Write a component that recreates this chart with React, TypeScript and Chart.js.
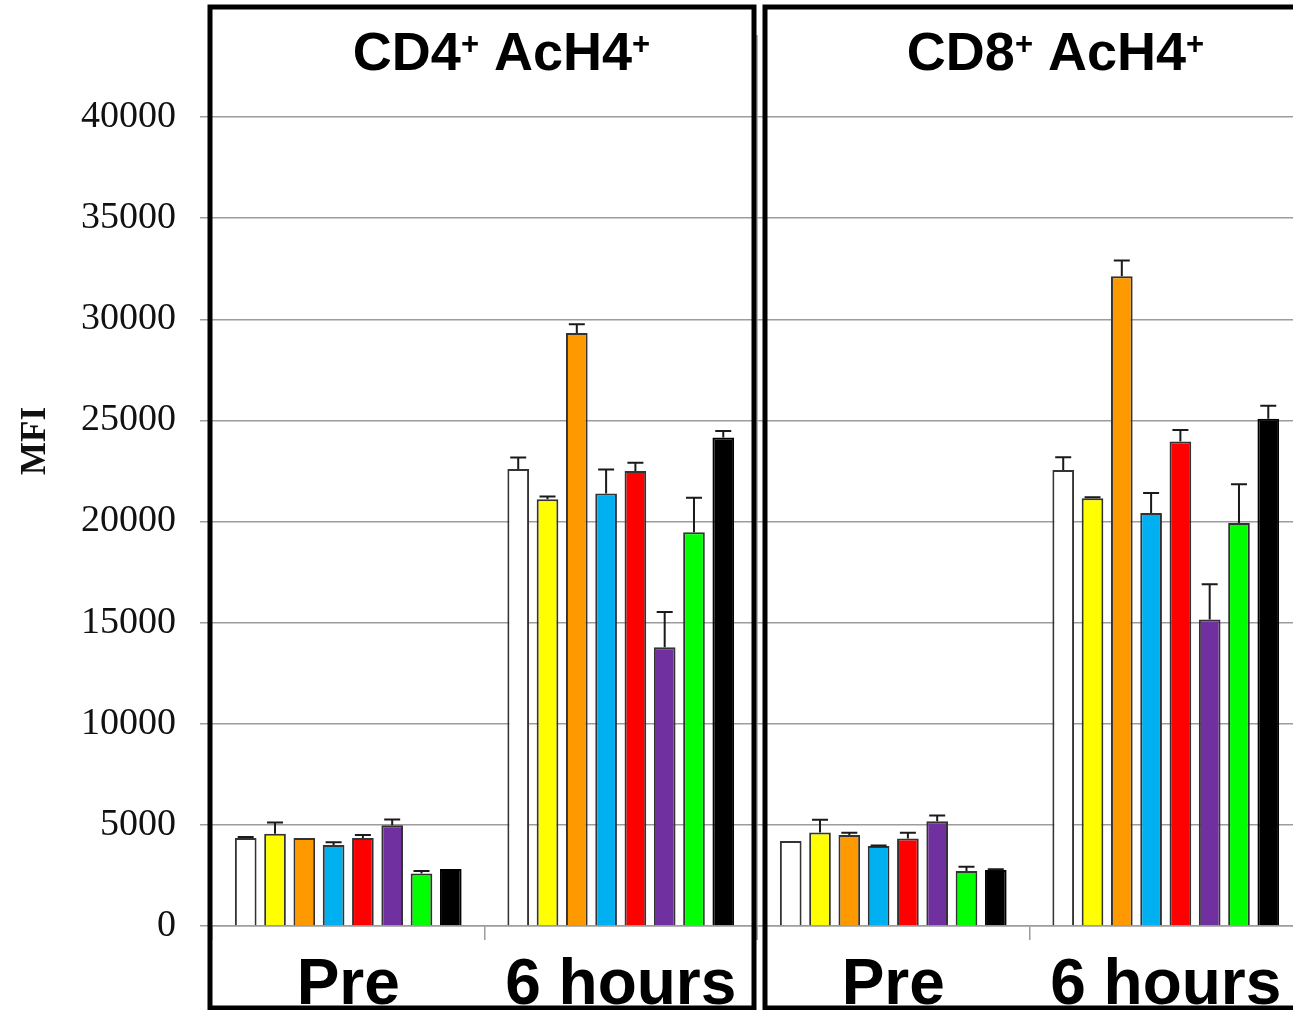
import React, { useEffect, useRef } from "react";
import { Chart, registerables } from "chart.js";

Chart.register(...registerables);

// ---- data ----
const categories = ["Pre", "6 hours", "Pre", "6 hours"];
const panelTitles = [
  ["CD4", "+", " AcH4", "+"],
  ["CD8", "+", " AcH4", "+"],
];
const yTicks = [0, 5000, 10000, 15000, 20000, 25000, 30000, 35000, 40000];
const yAxisTitle = "MFI";

const seriesNames = ["Series 1", "Series 2", "Series 3", "Series 4", "Series 5", "Series 6", "Series 7", "Series 8"];
const seriesColors = ["#FFFFFF", "#FFFF00", "#FF9900", "#00B0F0", "#FF0000", "#7030A0", "#00FF00", "#000000"];

const whiteVals = [4350, 22600, 4200, 22550];
const yellowVals = [4560, 21100, 4620, 21150];
const orangeVals = [4350, 29320, 4500, 32120];
const blueVals = [4010, 21380, 3950, 20420];
const redVals = [4350, 22500, 4330, 23950];
const purpleVals = [4980, 13780, 5180, 15150];
const greenVals = [2590, 19470, 2720, 19920];
const blackVals = [2820, 24150, 2770, 25080];

const whiteErr = [50, 560, 0, 630];
const yellowErr = [560, 130, 630, 50];
const orangeErr = [0, 430, 115, 780];
const blueErr = [130, 1190, 30, 990];
const redErr = [150, 410, 280, 580];
const purpleErr = [280, 1740, 280, 1750];
const greenErr = [130, 1700, 210, 1920];
const blackErr = [0, 320, 30, 645];

const allVals = [whiteVals, yellowVals, orangeVals, blueVals, redVals, purpleVals, greenVals, blackVals];
const allErrs = [whiteErr, yellowErr, orangeErr, blueErr, redErr, purpleErr, greenErr, blackErr];

const SANS = '"Liberation Sans", Arial, sans-serif';
const SERIF = '"Liberation Serif", "Times New Roman", serif';
const GRID = "#9c9c9c";

function drawTitle(ctx: CanvasRenderingContext2D, parts: string[], cx: number, baseline: number) {
  const big = "bold 54px " + SANS;
  const small = "bold 31px " + SANS;
  let total = 0;
  parts.forEach((p, i) => {
    ctx.font = i % 2 === 1 ? small : big;
    total += ctx.measureText(p).width;
  });
  let x = cx - total / 2;
  ctx.fillStyle = "#000";
  ctx.textAlign = "left";
  ctx.textBaseline = "alphabetic";
  parts.forEach((p, i) => {
    const sup = i % 2 === 1;
    ctx.font = sup ? small : big;
    ctx.fillText(p, x, sup ? baseline - 16 : baseline);
    x += ctx.measureText(p).width;
  });
}

const panelPlugin = {
  id: "panelDecor",
  beforeDatasetsDraw(chart: any) {
    const { ctx, scales, chartArea } = chart;
    const xs = scales.x;
    const mid = (xs.getPixelForValue(1) + xs.getPixelForValue(2)) / 2;
    ctx.save();
    ctx.strokeStyle = GRID;
    ctx.lineWidth = 1.5;
    ctx.beginPath();
    ctx.moveTo(mid, 35);
    ctx.lineTo(mid, chartArea.bottom + 14);
    ctx.stroke();
    ctx.restore();
  },
  afterDatasetsDraw(chart: any) {
    const { ctx, scales } = chart;
    const ys = scales.y;
    ctx.save();
    ctx.strokeStyle = "#1a1a1a";
    ctx.lineWidth = 2;
    chart.data.datasets.forEach((ds: any, d: number) => {
      const meta = chart.getDatasetMeta(d);
      meta.data.forEach((bar: any, j: number) => {
        const v = ds.data[j];
        const e = ds.errors[j];
        if (!e) return;
        const yTop = ys.getPixelForValue(v + e);
        ctx.beginPath();
        ctx.moveTo(bar.x, bar.y);
        ctx.lineTo(bar.x, yTop);
        ctx.moveTo(bar.x - 8, yTop);
        ctx.lineTo(bar.x + 8, yTop);
        ctx.stroke();
      });
    });
    ctx.restore();
  },
  afterDraw(chart: any) {
    const { ctx, scales, chartArea } = chart;
    const xs = scales.x;
    const mid = (xs.getPixelForValue(1) + xs.getPixelForValue(2)) / 2;
    const leftMid = (xs.getPixelForValue(0) + xs.getPixelForValue(1)) / 2;
    const rightMid = (xs.getPixelForValue(2) + xs.getPixelForValue(3)) / 2;
    const top = 7;
    const bottom = chart.height - 2;
    ctx.save();
    ctx.strokeStyle = "#000";
    ctx.lineWidth = 5;
    ctx.strokeRect(chartArea.left - 2, top, mid - 3 - (chartArea.left - 2), bottom - top);
    ctx.strokeRect(mid + 8, top, chart.width + 20 - (mid + 8), bottom - top);

    drawTitle(ctx, panelTitles[0], leftMid + 17, 70);
    drawTitle(ctx, panelTitles[1], rightMid + 26, 70);

    ctx.translate(36, 441);
    ctx.rotate(-Math.PI / 2);
    ctx.font = "bold 35px " + SERIF;
    ctx.fillStyle = "#111";
    ctx.textAlign = "center";
    ctx.textBaseline = "middle";
    ctx.fillText(yAxisTitle, 0, 0);
    ctx.restore();
  },
};

export default function App() {
  const ref = useRef<HTMLCanvasElement | null>(null);

  useEffect(() => {
    if (!ref.current) return;
    const chart = new Chart(ref.current, {
      type: "bar",
      data: {
        labels: categories,
        datasets: allVals.map((vals, i) => ({
          label: seriesNames[i],
          data: vals,
          errors: allErrs[i],
          backgroundColor: seriesColors[i],
          borderColor: i === 7 ? "#000000" : "#333333",
          borderWidth: 2,
          categoryPercentage: 0.86,
          barPercentage: 0.74,
        })) as any,
      },
      options: {
        responsive: false,
        animation: false,
        devicePixelRatio: 1,
        layout: { padding: { top: 117, left: 0, right: 0, bottom: 0 } },
        plugins: {
          legend: { display: false },
          tooltip: { enabled: false },
          title: { display: false },
        },
        scales: {
          x: {
            type: "category",
            afterFit: (s: any) => {
              s.height = 84;
            },
            grid: {
              display: true,
              drawOnChartArea: false,
              drawTicks: true,
              tickLength: 14,
              color: GRID,
              lineWidth: 1.5,
              offset: true,
            },
            border: { display: true, color: GRID, width: 1.5 },
            ticks: {
              color: "#000",
              padding: 14,
              maxRotation: 0,
              autoSkip: false,
              font: { family: SANS, size: 64, weight: "bold", lineHeight: 1 },
            },
          },
          y: {
            min: 0,
            max: 40000,
            afterFit: (s: any) => {
              s.width = 212;
            },
            afterBuildTicks: (s: any) => {
              s.ticks = yTicks.map((v) => ({ value: v }));
            },
            grid: {
              color: GRID,
              lineWidth: 1.5,
              drawTicks: true,
              tickLength: 12,
            },
            border: { display: false },
            ticks: {
              color: "#111",
              padding: 24,
              font: { family: SERIF, size: 38 },
              callback: (v: any) => String(v),
            },
          },
        },
      } as any,
      plugins: [panelPlugin],
    });
    return () => chart.destroy();
  }, []);

  return (
    <div
      style={{
        position: "fixed",
        left: 0,
        top: 0,
        width: 1293,
        height: 1010,
        overflow: "hidden",
        background: "#fff",
      }}
    >
      <canvas ref={ref} width={1302} height={1010} style={{ display: "block", width: 1302, height: 1010 }} />
    </div>
  );
}
